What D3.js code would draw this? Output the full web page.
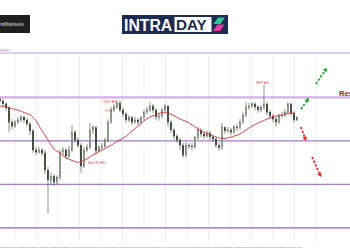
<!DOCTYPE html>
<html><head><meta charset="utf-8">
<script src="https://cdn.jsdelivr.net/npm/d3@7"></script>
<style>html,body{margin:0;padding:0;background:#fff;overflow:hidden}</style>
</head><body><svg id="c" width="350" height="250"></svg>
<script>
// ---- data (EURUSD-like) ----
const opens=[1.0596,1.0592,1.0585,1.0576,1.0543,1.0534,1.0543,1.0548,1.0555,1.0548,
1.0539,1.0523,1.0479,1.0474,1.0479,1.0472,1.0433,1.0410,1.0419,1.0405,
1.0415,1.0474,1.0479,1.0465,1.0479,1.0520,1.0502,1.0490,1.0442,1.0479,
1.0486,1.0525,1.0530,1.0477,1.0484,1.0488,1.0502,1.0543,1.0571,1.0578,
1.0587,1.0571,1.0562,1.0548,1.0553,1.0543,1.0548,1.0543,1.0553,1.0566,
1.0571,1.0580,1.0571,1.0555,1.0557,1.0571,1.0580,1.0543,1.0525,1.0511,
1.0502,1.0490,1.0467,1.0490,1.0488,1.0486,1.0507,1.0525,1.0516,1.0511,
1.0518,1.0509,1.0504,1.0490,1.0484,1.0530,1.0523,1.0525,1.0520,1.0532,
1.0530,1.0543,1.0559,1.0576,1.0580,1.0585,1.0578,1.0571,1.0576,1.0585,
1.0566,1.0557,1.0550,1.0543,1.0557,1.0559,1.0566,1.0585,1.0564,1.0548];
const highs=[1.0601,1.0596,1.0589,1.0580,1.0550,1.0548,1.0555,1.0559,1.0557,1.0553,
1.0543,1.0527,1.0486,1.0486,1.0484,1.0479,1.0440,1.0428,1.0424,1.0421,
1.0481,1.0486,1.0484,1.0488,1.0536,1.0525,1.0509,1.0495,1.0486,1.0493,
1.0541,1.0536,1.0534,1.0490,1.0495,1.0507,1.0550,1.0578,1.0585,1.0594,
1.0592,1.0576,1.0566,1.0559,1.0557,1.0555,1.0553,1.0557,1.0571,1.0578,
1.0589,1.0585,1.0576,1.0564,1.0576,1.0585,1.0582,1.0548,1.0530,1.0516,
1.0507,1.0495,1.0497,1.0495,1.0495,1.0511,1.0532,1.0530,1.0520,1.0523,
1.0523,1.0514,1.0509,1.0495,1.0541,1.0534,1.0532,1.0530,1.0536,1.0539,
1.0550,1.0566,1.0589,1.0587,1.0589,1.0589,1.0582,1.0582,1.0628,1.0589,
1.0571,1.0562,1.0555,1.0562,1.0566,1.0573,1.0589,1.0587,1.0569,1.0557];
const lows=[1.0587,1.0580,1.0569,1.0520,1.0527,1.0530,1.0539,1.0543,1.0541,1.0532,
1.0513,1.0472,1.0467,1.0470,1.0465,1.0424,1.0334,1.0398,1.0396,1.0401,
1.0410,1.0467,1.0458,1.0461,1.0474,1.0495,1.0484,1.0426,1.0438,1.0474,
1.0481,1.0516,1.0467,1.0472,1.0479,1.0484,1.0497,1.0539,1.0566,1.0573,
1.0566,1.0555,1.0541,1.0543,1.0536,1.0539,1.0536,1.0539,1.0548,1.0562,
1.0566,1.0564,1.0548,1.0546,1.0553,1.0566,1.0532,1.0518,1.0504,1.0495,
1.0479,1.0461,1.0463,1.0481,1.0479,1.0481,1.0502,1.0509,1.0504,1.0507,
1.0502,1.0497,1.0484,1.0477,1.0479,1.0516,1.0518,1.0513,1.0516,1.0523,
1.0525,1.0539,1.0555,1.0571,1.0576,1.0571,1.0564,1.0566,1.0571,1.0559,
1.0550,1.0543,1.0532,1.0539,1.0553,1.0555,1.0562,1.0557,1.0543,1.0546];
const closes=[1.0592,1.0585,1.0576,1.0543,1.0534,1.0543,1.0548,1.0555,1.0548,1.0539,
1.0523,1.0479,1.0474,1.0479,1.0472,1.0433,1.0410,1.0419,1.0405,1.0415,
1.0474,1.0479,1.0465,1.0479,1.0520,1.0502,1.0490,1.0442,1.0479,1.0486,
1.0525,1.0530,1.0477,1.0484,1.0488,1.0502,1.0543,1.0571,1.0578,1.0587,
1.0571,1.0562,1.0548,1.0553,1.0543,1.0548,1.0543,1.0553,1.0566,1.0571,
1.0580,1.0571,1.0555,1.0557,1.0571,1.0580,1.0543,1.0525,1.0511,1.0502,
1.0490,1.0467,1.0490,1.0488,1.0486,1.0507,1.0525,1.0516,1.0511,1.0518,
1.0509,1.0504,1.0490,1.0484,1.0530,1.0523,1.0525,1.0520,1.0532,1.0530,
1.0543,1.0559,1.0576,1.0580,1.0585,1.0578,1.0571,1.0576,1.0585,1.0566,
1.0557,1.0550,1.0543,1.0557,1.0559,1.0566,1.0585,1.0564,1.0548,1.0553];
// moving average, one value every second candle
const maValues=[1.0580,1.0578,1.0574,1.0571,1.0565,1.0560,1.0546,1.0523,1.0502,1.0481,
1.0472,1.0461,1.0455,1.0451,1.0455,1.0463,1.0472,1.0479,1.0486,1.0494,
1.0502,1.0511,1.0523,1.0534,1.0546,1.0555,1.0560,1.0565,1.0564,1.0558,
1.0550,1.0545,1.0537,1.0527,1.0520,1.0514,1.0509,1.0505,1.0507,1.0511,
1.0516,1.0525,1.0534,1.0541,1.0547,1.0553,1.0557,1.0560,1.0563,1.0564];
const levels=[1.0702,1.0600,1.0500,1.0400,1.0300];
const gridIdx=[5,12.17,19.33,26.5,33.67,40.83,48,55.17,62.33,69.5,76.67,83.83,91,98.17,105.33];
const timeLabels=["25 Nov 2024","25 Nov 20:00","26 Nov 12:00","27 Nov 04:00","27 Nov 20:00","28 Nov 12:00","29 Nov 04:00",
"29 Nov 20:00","2 Dec 12:00","3 Dec 04:00","3 Dec 20:00","4 Dec 12:00","5 Dec 04:00","5 Dec 20:00",
"6 Dec 12:00","9 Dec 04:00","9 Dec 20:00","10 Dec 12:00","11 Dec 04:00","11 Dec 20:00","12 Dec 12:00",
"13 Dec 04:00","13 Dec 20:00","16 Dec 12:00","17 Dec 04:00","17 Dec 20:00","18 Dec 12:00","19 Dec 04:00"];
const noteTexts=["GDP AS","PCE","Mod FOMC","NFP AS"];
const noteIdx=[34.3,35,29.3,85.3];
const notePrice=[1.0587,1.0566,1.0447,1.0631];
const upArrows=[[100.3,1.0573,103,1.0599],[105.3,1.0631,109,1.0668]];
const downArrows=[[100.3,1.0532,102,1.0500],[104,1.0463,107,1.0417]];
const resText="Resistance", resIdx=113, resPrice=1.0604;

// ---- drawing ----
const svg=d3.select("#c");
const x=d3.scaleLinear().domain([0,99]).range([0,297]);
const y=d3.scaleLinear().domain([1.0249,1.0824]).range([250,0]);
const F="'Liberation Sans', Arial, sans-serif";

// logos
const lg=svg.append("g");
lg.append("rect").attr("x",0).attr("y",15).attr("width",30).attr("height",18).attr("fill","#1f1f1f");
const t1=lg.append("text").attr("x",0.5).attr("y",26.3).attr("font-family",F).attr("font-size",5.6).attr("fill","#d8d8d8");
t1.append("tspan").attr("font-weight","bold").text("n");
t1.append("tspan").text("Markets");
lg.append("rect").attr("x",122).attr("y",15).attr("width",106).attr("height",19).attr("fill","#1c2b4f");
lg.append("text").attr("x",124).attr("y",30.6).attr("font-family",F).attr("font-weight","bold").attr("font-size",15.8).attr("fill","#fff").text("INTRA");
lg.append("rect").attr("x",174.5).attr("y",17).attr("width",37).attr("height",15).attr("fill","#fff");
lg.append("text").attr("x",176).attr("y",30.3).attr("font-family",F).attr("font-weight","bold").attr("font-size",15.2).attr("fill","#1c2b4f").text("DAY");
lg.append("polygon").attr("points","218,17.5 225,17.5 220.5,24 213.5,24").attr("fill","#2fc79a");
lg.append("polygon").attr("points","217.5,24.5 224.5,24.5 220,31 213,31").attr("fill","#e63a9c");

// vertical grid
svg.append("g").selectAll("line").data(gridIdx).join("line")
 .attr("x1",d=>x(d)).attr("x2",d=>x(d)).attr("y1",y(levels[0])).attr("y2",243)
 .attr("stroke","#c4c4c4").attr("stroke-width",0.6).attr("stroke-dasharray","1,1");

// levels
const lvStroke=["#b994d6","#d3b0e6","#a47ad0","#a47ad0","#9262c2"];
const lvW=[0.9,2.2,1.3,1.3,1.3];
svg.append("g").selectAll("line").data(levels).join("line")
 .attr("x1",0).attr("x2",350).attr("y1",d=>y(d)).attr("y2",d=>y(d))
 .attr("stroke",(d,i)=>lvStroke[i]).attr("stroke-width",(d,i)=>lvW[i]);

// top-left label
svg.append("rect").attr("x",0).attr("y",y(levels[0])-4.5).attr("width",9).attr("height",3).attr("fill","#e4e4e4");
svg.append("text").attr("x",0.5).attr("y",y(levels[0])-2.2).attr("font-family",F).attr("font-size",2).attr("fill","#888").text("EURUSD,H4");

// candles
const cg=svg.append("g");
d3.range(closes.length).forEach(i=>{
  const o=opens[i],c=closes[i],h=highs[i],l=lows[i];
  const up=c>=o;
  cg.append("line").attr("x1",x(i)).attr("x2",x(i)).attr("y1",y(h)).attr("y2",y(l))
    .attr("stroke","#3a4636").attr("stroke-width",0.6);
  const yt=y(Math.max(o,c)), yb=y(Math.min(o,c));
  cg.append("rect").attr("x",x(i)-0.8).attr("y",yt).attr("width",1.6).attr("height",Math.max(0.6,yb-yt))
    .attr("fill",up?"#b7c6b2":"#33402f").attr("stroke","#33402f").attr("stroke-width",0.3);
});

// moving average
svg.append("path").datum(maValues)
 .attr("d",d3.line().x((d,j)=>x(2*j)).y(d=>y(d)).curve(d3.curveMonotoneX))
 .attr("fill","none").attr("stroke","#c9363c").attr("stroke-width",0.9);

// notes
svg.append("g").selectAll("text").data(noteTexts).join("text")
 .attr("x",(d,i)=>x(noteIdx[i])).attr("y",(d,i)=>y(notePrice[i]))
 .attr("font-family",F).attr("font-size",3.6).attr("fill","#d0515b").text(d=>d);

// arrows
function arrow(a,color){
  const x1=x(a[0]),y1=y(a[1]),x2=x(a[2]),y2=y(a[3]);
  const ang=Math.atan2(y2-y1,x2-x1), L=4, W=2.3;
  const bx=x2-L*Math.cos(ang), by=y2-L*Math.sin(ang);
  svg.append("line").attr("x1",x1).attr("y1",y1).attr("x2",bx).attr("y2",by)
    .attr("stroke",color).attr("stroke-width",1.7).attr("stroke-dasharray","2.4,1.6");
  const px=-Math.sin(ang)*W, py=Math.cos(ang)*W;
  svg.append("polygon").attr("points",`${x2},${y2} ${bx+px},${by+py} ${bx-px},${by-py}`).attr("fill",color);
}
upArrows.forEach(a=>arrow(a,"#1f9e2c"));
downArrows.forEach(a=>arrow(a,"#e01f1f"));

// resistance label
svg.append("text").attr("x",x(resIdx)).attr("y",y(resPrice)).attr("font-family",F)
 .attr("font-weight","bold").attr("font-size",7.6).attr("fill","#9c1b1b").text(resText);

// time labels
svg.append("g").selectAll("text").data(timeLabels).join("text")
 .attr("x",(d,i)=>x(i*3.583)+0.5).attr("y",247.5).attr("font-family",F)
 .attr("font-size",1.9).attr("fill","#6a6a6a").text(d=>d);
</script></body></html>
